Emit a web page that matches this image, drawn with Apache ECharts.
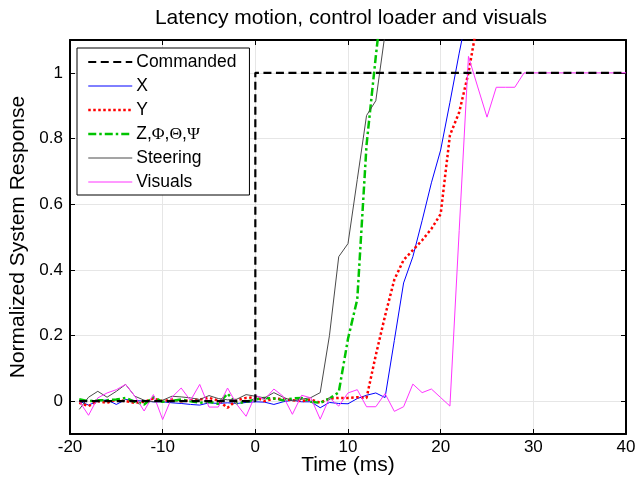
<!DOCTYPE html>
<html><head><meta charset="utf-8">
<script src="https://cdn.jsdelivr.net/npm/echarts@6/dist/echarts.min.js"></script>
<style>html,body{margin:0;padding:0;background:#fff}#c{width:640px;height:483px}</style>
</head><body><div id="c"></div>
<script>
const timeMs = [-19,-18,-17,-16,-15,-14,-13,-12,-11,-10,-9,-8,-7,-6,-5,-4,-3,-2,-1,0,1,2,3,4,5,6,7,8,9,10,11,12,13,14,15,16,17,18,19,20,21,22,23,24,25,26,27,28,29,30,31,32,33,34,35,36,37,38,39,40];
const commandedT = [-19, 0, 0, 40];
const commandedV = [0, 0, 1, 1];
const xV = [0.0,-0.012,0.0,0.004,-0.01,0.005,0.002,0.0,-0.002,-0.002,-0.005,-0.007,-0.01,-0.012,-0.005,-0.007,-0.005,-0.007,-0.004,-0.002,-0.003,-0.01,-0.002,0.003,-0.002,-0.002,-0.02,-0.004,-0.007,-0.008,0.008,0.018,0.025,0.011,0.185,0.36,0.44,0.55,0.665,0.765,0.91,1.06,1.2];
const yV = [-0.005,-0.015,0.0,-0.005,0.005,0.0,-0.005,-0.002,0.008,0.0,0.005,0.0,0.003,0.005,0.01,0.002,-0.02,0.003,0.01,0.012,0.0,0.008,0.006,0.003,0.0,0.005,-0.005,0.008,0.01,0.01,0.012,0.01,0.14,0.26,0.37,0.43,0.46,0.49,0.525,0.57,0.81,0.88,1.0,1.16];
const zV = [0.006,0.0,0.003,0.003,0.005,0.01,-0.002,-0.01,0.012,-0.002,0.001,0.005,0.0,-0.005,-0.002,-0.008,0.023,-0.007,-0.002,0.005,0.01,0.008,0.003,0.008,0.01,-0.002,-0.005,0.008,0.027,0.19,0.31,0.78,1.05,1.3];
const steeringV = [-0.025,0.012,0.03,0.012,0.03,0.051,0.015,0.003,-0.002,0.003,0.015,0.013,0.01,0.005,0.017,0.008,0.004,0.006,0.02,0.015,0.01,0.026,0.012,0.001,0.006,0.011,0.026,0.2,0.44,0.48,0.675,0.87,0.915,1.12];
const visualsV = [0.0,-0.043,0.01,0.025,0.035,0.051,0.015,-0.03,0.02,-0.056,0.012,0.04,0.002,0.051,-0.018,-0.018,0.04,-0.01,-0.046,0.018,0.005,0.037,0.015,-0.04,0.018,0.01,-0.055,0.01,-0.015,0.025,0.035,-0.017,-0.017,0.023,-0.031,-0.017,0.052,0.026,0.037,0.011,-0.015,0.52,1.05,0.957,0.865,0.956,0.956,0.956,1.0,1.0,1.0,1.0,1.0,1.0,1.0,1.0,1.0,1.0,1.0,1.0];
const seriesNames = ['Commanded','X','Y','Z,\u03A6,\u0398,\u03A8','Steering','Visuals'];
const xTicks = {min:-20, max:40, step:10};
const yRange = {min:-0.1, max:1.1};
const titleText = 'Latency motion, control loader and visuals';
const xName = 'Time (ms)';
const yName = 'Normalized System Response';

const FONT = '"Liberation Sans", Arial, Helvetica, sans-serif';
function pairs(v){ return v.map((y,i)=>[timeMs[i], y]); }

const chart = echarts.init(document.getElementById('c'), null, {renderer:'canvas'});
const axisLine = {show:true, onZero:false, lineStyle:{color:'#000', width:2}};
const tick = {show:true, inside:true, length:5, lineStyle:{color:'#000', width:1}};
const lbl = {color:'#000', fontSize:17, fontFamily:FONT};
chart.setOption({
  animation:false,
  backgroundColor:'#fff',
  graphic:[{type:'text', x:351, y:18, style:{text:titleText, fill:'#000', font:'21px ' + FONT, textAlign:'center', textVerticalAlign:'middle'}}],
  grid:{left:70, right:14, top:40, bottom:49, containLabel:false, outerBoundsMode:'none'},
  legend:{
    orient:'vertical', left:77, top:48,
    data:seriesNames,
    itemWidth:44, itemHeight:14, itemGap:6,
    padding:[5,13,4,10],
    borderColor:'#000', borderWidth:1, backgroundColor:'#fff',
    selectedMode:false,
    itemStyle:{opacity:0},
    lineStyle:{width:'inherit'},
    textStyle:{color:'#000', fontSize:17.5, fontFamily:FONT, padding:[0,0,0,-1],
      rich:{g:{fontFamily:'"Liberation Serif", "Times New Roman", serif', fontSize:17.5, color:'#000'}}},
    formatter:function(n){ return n.indexOf('\u03A6')>=0 ? 'Z,{g|\u03A6},{g|\u0398},{g|\u03A8}' : n; }
  },
  xAxis:[
    {type:'value', min:xTicks.min, max:xTicks.max, interval:xTicks.step, position:'bottom',
     axisLine:axisLine, axisTick:tick, axisLabel:Object.assign({margin:5}, lbl),
     splitLine:{show:true, lineStyle:{color:'#e6e6e6', width:1}},
     name:xName, nameLocation:'middle', nameGap:21, nameMoveOverlap:false,
     nameTextStyle:{color:'#000', fontSize:21, fontFamily:FONT}},
    {type:'value', min:xTicks.min, max:xTicks.max, interval:xTicks.step, position:'top',
     axisLine:axisLine, axisTick:tick, axisLabel:{show:false}, splitLine:{show:false}}
  ],
  yAxis:[
    {type:'value', min:yRange.min, max:yRange.max, splitNumber:6, position:'left',
     axisLine:axisLine, axisTick:tick, axisLabel:Object.assign({margin:7, showMinLabel:false, showMaxLabel:false}, lbl),
     splitLine:{show:true, lineStyle:{color:'#e6e6e6', width:1}},
     name:yName, nameLocation:'middle', nameGap:41, nameMoveOverlap:false,
     nameTextStyle:{color:'#000', fontSize:21, fontFamily:FONT}},
    {type:'value', min:yRange.min, max:yRange.max, splitNumber:6, position:'right',
     axisLine:axisLine, axisTick:tick, axisLabel:{show:false}, splitLine:{show:false}}
  ],
  series:[
    {name:seriesNames[0], type:'line', symbol:'none', z:10, data:commandedT.map((t,i)=>[t, commandedV[i]]),
     lineStyle:{color:'#000', width:2.2, type:[8,4.5]}, itemStyle:{color:'#000'}},
    {name:seriesNames[1], type:'line', symbol:'none', z:3, data:pairs(xV),
     lineStyle:{color:'#0000ff', width:1}, itemStyle:{color:'#0000ff'}},
    {name:seriesNames[2], type:'line', symbol:'none', z:4, data:pairs(yV),
     lineStyle:{color:'#ff0000', width:2.5, type:[2.5,2.5]}, itemStyle:{color:'#ff0000'}},
    {name:seriesNames[3], type:'line', symbol:'none', z:5, data:pairs(zV),
     lineStyle:{color:'#00c400', width:2.5, type:[8,3,2.5,3]}, itemStyle:{color:'#00c400'}},
    {name:seriesNames[4], type:'line', symbol:'none', z:6, data:pairs(steeringV),
     lineStyle:{color:'#4a4a4a', width:1}, itemStyle:{color:'#4a4a4a'}},
    {name:seriesNames[5], type:'line', symbol:'none', z:7, data:pairs(visualsV),
     lineStyle:{color:'#ff33ff', width:1}, itemStyle:{color:'#ff33ff'}}
  ]
});
</script></body></html>
